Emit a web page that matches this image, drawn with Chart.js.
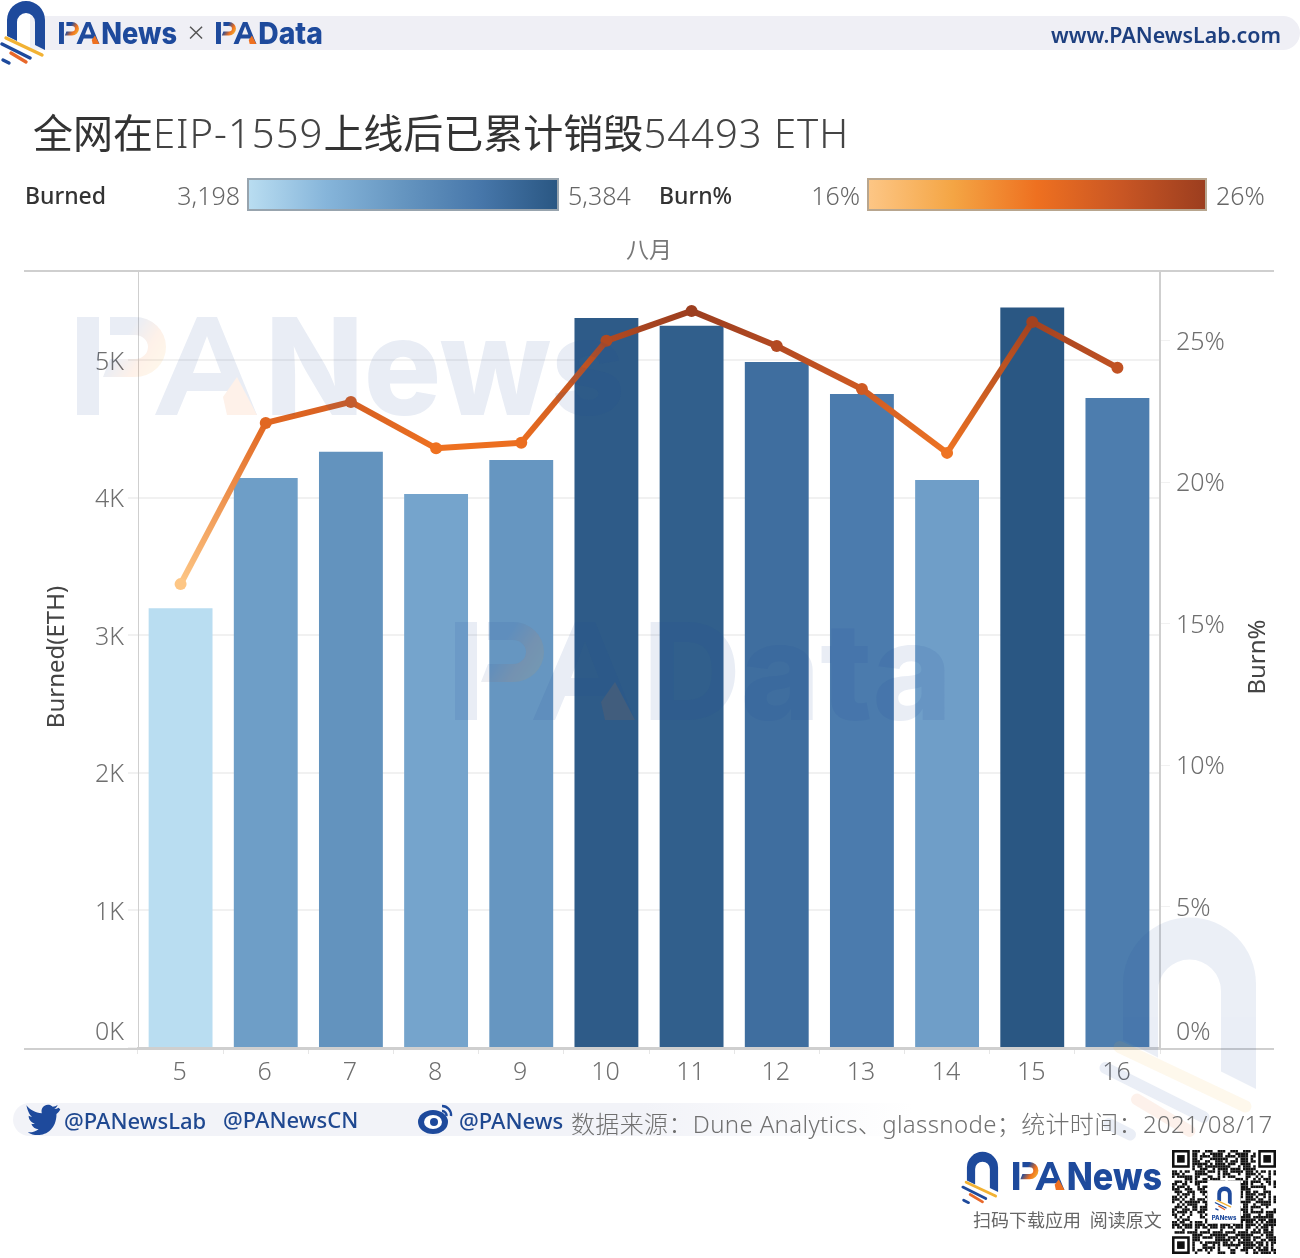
<!DOCTYPE html>
<html lang="zh">
<head>
<meta charset="utf-8">
<title>EIP-1559</title>
<script src="https://cdn.jsdelivr.net/npm/chart.js@4"></script>
<style>
  html, body { margin: 0; padding: 0; background: #fff; }
  body { position: relative; width: 1300px; height: 1258px; overflow: hidden;
         font-family: "Noto Sans", "Noto Sans CJK SC", sans-serif; color: #666; }
  #chart { position: absolute; left: 0; top: 0; }
  #overlay { position: absolute; left: 0; top: 0; pointer-events: none; }
  .t { position: absolute; white-space: nowrap; line-height: 1; }
  .r { text-align: right; }
  .band { position: absolute; }
  .ramp { position: absolute; box-sizing: border-box; height: 33px; top: 178px; border-style: solid; border-width: 2px; }
  .link { color: #1f4890; font-weight: 500; font-size: 22px; }
  .lat { font-weight: 300; letter-spacing: 1px; color: #444; }
</style>
</head>
<body>
<div class="band" style="left:30px;top:16px;width:1270px;height:34px;background:#efeff5;border-radius:0 17px 17px 0"></div>
<div class="band" style="left:13px;top:1103px;width:900px;height:33px;background:linear-gradient(90deg,#f2f3f8 70%,rgba(242,243,248,0));border-radius:17px 0 0 17px"></div>

<canvas id="chart" width="1300" height="1258"></canvas>
<svg id="overlay" width="1300" height="1258" xmlns="http://www.w3.org/2000/svg"></svg>

<div class="t" style="left:1051px;top:24px;font-size:21.4px;font-weight:600;color:#1d3f7f">www.PANewsLab.com</div>
<div class="t" style="left:33px;top:113px;font-size:40px;color:#333;font-weight:400">全网在<span class="lat">EIP-1559</span>上线后已累计销毁<span class="lat">54493 ETH</span></div>

<div class="t" style="left:25px;top:184px;font-size:23px;color:#333;font-weight:500">Burned</div>
<div class="t r" style="left:140px;width:100px;top:183px;font-size:25px;font-weight:300">3,198</div>
<div class="ramp" style="left:247px;width:312px;border-color:#98a4ae;background:linear-gradient(90deg,#b9ddf1,#86b5da 25%,#6595c0 50%,#4777aa 75%,#2a5783)"></div>
<div class="t" style="left:568px;top:183px;font-size:25px;font-weight:300">5,384</div>
<div class="t" style="left:659px;top:184px;font-size:23px;color:#333;font-weight:500">Burn%</div>
<div class="t r" style="left:760px;width:100px;top:183px;font-size:25px;font-weight:300">16%</div>
<div class="ramp" style="left:867px;width:340px;border-color:#b8a68f;background:linear-gradient(90deg,#fdc685,#f4a544 25%,#ee7020 50%,#c95624 75%,#9c3e1f)"></div>
<div class="t" style="left:1216px;top:183px;font-size:25px;font-weight:300">26%</div>
<div class="t" style="left:626px;top:238px;font-size:23px;color:#777">八月</div>

<div class="t link" style="left:64px;top:1109px">@PANewsLab</div>
<div class="t link" style="left:223px;top:1108px">@PANewsCN</div>
<div class="t link" style="left:459px;top:1109px">@PANews</div>
<div class="t" style="left:571px;top:1112px;font-size:24px;color:#707070;font-weight:300;letter-spacing:0.35px">数据来源：Dune Analytics、glassnode；统计时间：2021/08/17</div>
<div class="t" style="left:973px;top:1211px;font-size:18px;color:#666;word-spacing:4px">扫码下载应用 阅读原文</div>

<script>
const days = ['5', '6', '7', '8', '9', '10', '11', '12', '13', '14', '15', '16'];
const burned = [3198, 4145, 4335, 4029, 4276, 5309, 5251, 4989, 4756, 4131, 5384, 4727];
const burnPct = [16.4, 22.1, 22.84, 21.2, 21.4, 25.0, 26.06, 24.82, 23.3, 21.04, 25.67, 24.05];
const burnedTicks = [0, 1000, 2000, 3000, 4000, 5000];
const pctTicks = [0, 5, 10, 15, 20, 25];

const BLUE_RAMP = ['#b9ddf1', '#86b5da', '#6595c0', '#4777aa', '#2a5783'];
const ORANGE_RAMP = ['#fdc685', '#f4a544', '#ee7020', '#c95624', '#9c3e1f'];
const TICK_FONT = { family: '"Noto Sans", "Noto Sans CJK SC", sans-serif', size: 25, weight: '300', lineHeight: 1.34 };

function rampColor(ramp, t) {
  const pos = Math.max(0, Math.min(1, t)) * (ramp.length - 1);
  const i = Math.min(Math.floor(pos), ramp.length - 2);
  const a = parseInt(ramp[i].slice(1), 16);
  const b = parseInt(ramp[i + 1].slice(1), 16);
  const mix = shift => Math.round(((a >> shift) & 255) * (1 - pos + i) + ((b >> shift) & 255) * (pos - i));
  return `rgb(${mix(16)},${mix(8)},${mix(0)})`;
}

const barColor = v => rampColor(BLUE_RAMP, (v - 3198) / (5384 - 3198));
const lineColor = v => rampColor(ORANGE_RAMP, (v - 16.4) / (26.06 - 16.4));

// 0K and 0% sit above the baseline in the original, the empty second line lifts them
const lifted = label => label.startsWith('0') ? [label, ''] : label;

// frame lines run past the plot, right axis title reads bottom to top
const framePlugin = {
  id: 'frame',
  afterDraw(chart) {
    const { ctx, chartArea: area, scales } = chart;
    ctx.save();
    ctx.strokeStyle = '#cfcfcf';
    ctx.lineWidth = 2;
    ctx.beginPath();
    ctx.moveTo(scales.y.left, area.top);
    ctx.lineTo(scales.pct.right, area.top);
    ctx.moveTo(scales.y.left, area.bottom + 1);
    ctx.lineTo(scales.pct.right, area.bottom + 1);
    ctx.stroke();

    ctx.fillStyle = '#444';
    ctx.font = '24px "Noto Sans", sans-serif';
    ctx.textAlign = 'center';
    ctx.textBaseline = 'middle';
    const mid = 657;
    [['Burned(ETH)', 57], ['Burn%', 1258]].forEach(([text, x]) => {
      ctx.save();
      ctx.translate(x, mid);
      ctx.rotate(-Math.PI / 2);
      ctx.fillText(text, 0, 0);
      ctx.restore();
    });
    ctx.restore();
  }
};

new Chart(document.getElementById('chart'), {
  type: 'bar',
  data: {
    labels: days,
    datasets: [
      {
        type: 'line',
        label: 'Burn%',
        data: burnPct,
        yAxisID: 'pct',
        order: 1,
        tension: 0,
        borderWidth: 6,
        pointRadius: 6,
        pointHoverRadius: 6,
        pointBorderWidth: 0,
        pointBackgroundColor: burnPct.map(lineColor),
        segment: {
          borderColor: c => {
            const g = c.chart.ctx.createLinearGradient(c.p0.x, c.p0.y, c.p1.x, c.p1.y);
            g.addColorStop(0, lineColor(burnPct[c.p0DataIndex]));
            g.addColorStop(1, lineColor(burnPct[c.p1DataIndex]));
            return g;
          }
        }
      },
      {
        label: 'Burned',
        data: burned,
        yAxisID: 'y',
        order: 2,
        backgroundColor: burned.map(barColor),
        barPercentage: 0.75,
        categoryPercentage: 1
      }
    ]
  },
  plugins: [framePlugin],
  options: {
    responsive: false,
    animation: false,
    layout: { padding: { top: 271, left: 24, right: 26, bottom: 160 } },
    plugins: { legend: { display: false }, tooltip: { enabled: false } },
    scales: {
      x: {
        afterFit: s => { s.height = 50; },
        border: { color: '#cfcfcf', width: 2 },
        grid: { drawOnChartArea: false, color: '#e6e6e6', tickLength: 6 },
        ticks: { color: '#6f6f6f', font: TICK_FONT, padding: 2, maxRotation: 0, labelOffset: -1 }
      },
      y: {
        position: 'left',
        min: 0,
        max: 5650,
        afterFit: s => { s.width = 114; },
        afterBuildTicks: s => { s.ticks = burnedTicks.map(value => ({ value })); },
        border: { color: '#cfcfcf', width: 1 },
        grid: { color: '#f1f1f1', lineWidth: 2, tickLength: 10 },
        ticks: {
          color: '#6f6f6f', font: TICK_FONT, padding: 4, labelOffset: 2,
          callback: v => lifted(`${v / 1000}K`)
        }
      },
      pct: {
        position: 'right',
        min: 0,
        max: 27.47,
        afterFit: s => { s.width = 114; },
        afterBuildTicks: s => { s.ticks = pctTicks.map(value => ({ value })); },
        border: { color: '#cfcfcf', width: 2 },
        grid: { drawOnChartArea: false, color: '#f1f1f1', tickLength: 10 },
        ticks: {
          color: '#6f6f6f', font: TICK_FONT, padding: 6, labelOffset: 2,
          callback: v => lifted(`${v}%`)
        }
      }
    }
  }
});

// logos and watermarks, drawn over the canvas like in the original
const BLUE = '#1e4a9c';

function archMark(x, y, scale, alpha) {
  return `<g transform="translate(${x} ${y}) scale(${scale})" opacity="${alpha}">
    <path fill="${BLUE}" d="M6 36V20A19 19 0 0 1 44 20V50L34 45V22A9 9 0 0 0 16 22V41Z"/>
    <g fill="none" stroke-width="3.4" stroke-linecap="round">
      <path stroke="#f2b233" d="M5 38L41 55"/>
      <path stroke="${BLUE}" d="M1 44L29 58"/>
      <path stroke="#e8682a" d="M10 53L25 62"/>
      <path stroke="${BLUE}" d="M2 60L8 63"/>
    </g>
  </g>`;
}

function wordMark(x, y, h, word, endX, alpha) {
  const s = h / 98;
  const id = `pa${Math.round(x)}`;
  return `<g opacity="${alpha}">
    <defs><linearGradient id="${id}" gradientUnits="userSpaceOnUse" x1="30" y1="0" x2="92" y2="40">
      <stop offset="0.35" stop-color="${BLUE}"/><stop offset="0.7" stop-color="#ee7020"/><stop offset="1" stop-color="#f5b030"/>
    </linearGradient></defs>
    <g transform="translate(${x} ${y}) scale(${s})">
      <rect width="22" height="98" fill="${BLUE}"/>
      <path fill="url(#${id})" d="M33 0H58A31 30 0 0 1 58 60H26L33 42H58A13 12 0 0 0 58 18H33Z"/>
      <path fill="${BLUE}" fill-rule="evenodd" d="M120 0H140L180 98H158L150 74H110L100 98H78ZM116 56H144L130 19Z"/>
      <path fill="#ee7020" d="M160 60L180 98H150L146 80Z"/>
    </g>
    <text x="${x + 188 * s}" y="${y + h}" font-family="Inter, sans-serif" font-weight="800" font-size="${h / 0.727}"
      fill="${BLUE}" textLength="${endX - x - 188 * s}" lengthAdjust="spacingAndGlyphs">${word}</text>
  </g>`;
}

function qrCode(x, y, size) {
  const n = 41;
  const m = size / n;
  let cells = '';
  const cell = (i, j, w = 1, h = 1, c = '#111') =>
    `<rect x="${(x + i * m).toFixed(2)}" y="${(y + j * m).toFixed(2)}" width="${(w * m).toFixed(2)}" height="${(h * m).toFixed(2)}" fill="${c}"/>`;
  const inFinder = (i, j) => (i < 8 && j < 8) || (i > n - 9 && j < 8) || (i < 8 && j > n - 9);
  for (let j = 0; j < n; j++) {
    for (let i = 0; i < n; i++) {
      if (!inFinder(i, j) && (i * j * 7 + i * i * 3 + j * 13 + (i ^ j)) % 5 < 3) cells += cell(i, j);
    }
  }
  [[0, 0], [n - 7, 0], [0, n - 7]].forEach(([i, j]) => {
    cells += cell(i, j, 7, 7) + cell(i + 1, j + 1, 5, 5, '#fff') + cell(i + 2, j + 2, 3, 3);
  });
  cells += cell(14, 12, 13, 17, '#fff');
  return cells;
}

const twitterIcon = `<path fill="${BLUE}" d="M58 1108c-1.5.8-3 1.2-4.6 1.4 1.7-1 2.9-2.5 3.5-4.3-1.5.9-3.3 1.6-5.1 2-3.2-3.4-9-2.6-11 1.6-.8 1.6-.8 3.3-.4 5-6.5-.3-12.2-3.4-16-8.2 0 0 2 10 6 12-1.3 0-2.6-.4-3.7-1 0 4 2.8 7.4 6.5 8.2-1.2.3-2.4.4-3.6.1 1 3.3 4 5.6 7.5 5.7-3.2 2.5-7.3 3.6-11.4 3.1 11 7 30 2 30-19 1.7-1.2 3-2.8 4-4.6z" transform="translate(3 44) scale(0.96)"/>`;

const weiboIcon = `<g fill="${BLUE}">
    <ellipse cx="433" cy="1122" rx="15" ry="12" />
    <ellipse cx="433" cy="1122" rx="9" ry="7" fill="#fff"/>
    <circle cx="434" cy="1122" r="4"/>
    <path fill="none" stroke="${BLUE}" stroke-width="2.4" d="M442 1106a9 9 0 0 1 9 10M442 1111a4.5 4.5 0 0 1 4.5 5"/>
  </g>`;

document.getElementById('overlay').innerHTML = [
  wordMark(77, 317, 98, 'News', 625, 0.1),
  wordMark(455, 622, 98, 'Data', 952, 0.1),
  archMark(1102, 914, 3.5, 0.09),
  archMark(1, 0, 1, 1),
  wordMark(59, 22, 22, 'News', 177, 1),
  `<text x="196" y="43" text-anchor="middle" font-family="'Noto Sans', sans-serif" font-size="30" font-weight="300" fill="#555">×</text>`,
  wordMark(216, 22, 22, 'Data', 323, 1),
  twitterIcon,
  weiboIcon,
  archMark(962, 1151, 0.82, 1),
  wordMark(1013, 1162, 28, 'News', 1162, 1),
  qrCode(1172, 1150, 104),
  archMark(1215, 1186, 0.38, 1),
  `<text x="1224" y="1220" text-anchor="middle" font-family="Inter, sans-serif" font-size="6" font-weight="800" fill="${BLUE}">PANews</text>`
].join('');
</script>
</body>
</html>
